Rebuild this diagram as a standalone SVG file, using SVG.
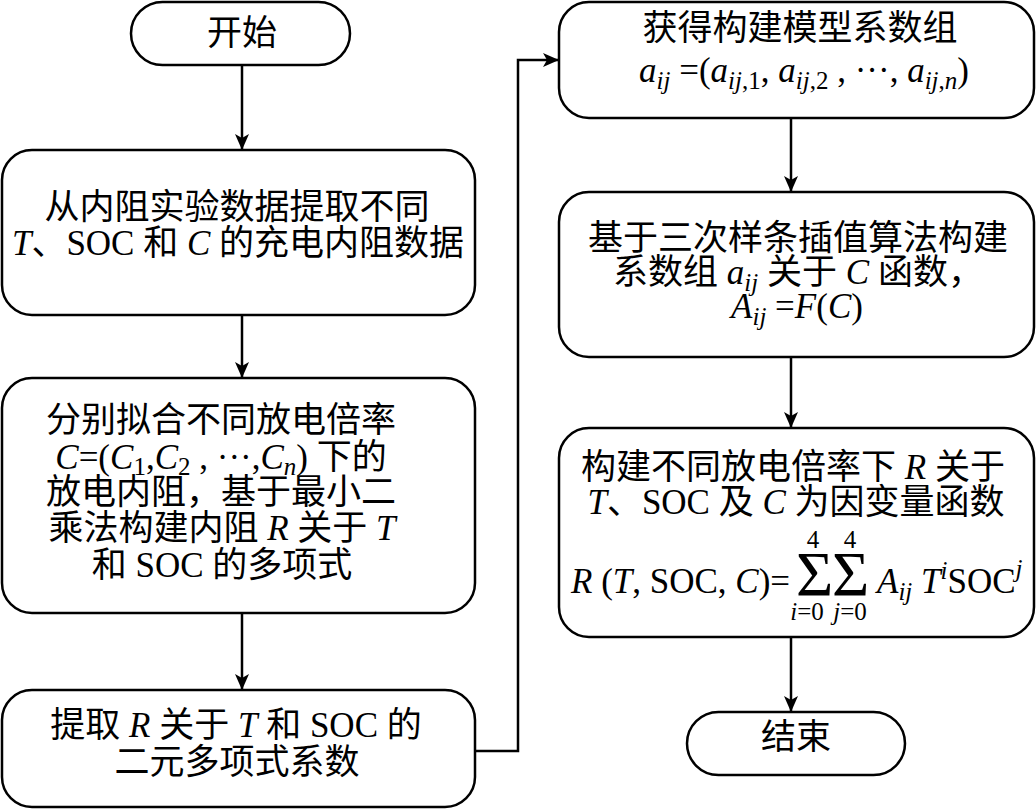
<svg xmlns="http://www.w3.org/2000/svg" width="1036" height="810" viewBox="0 0 1036 810">
<style>
.box{fill:#fff;stroke:#000;stroke-width:2.5}
.ln{fill:none;stroke:#000;stroke-width:2.5}
text{font-family:"Liberation Serif","Noto Sans CJK SC",serif;font-size:35px;fill:#000}
.c{text-anchor:middle}
.i{font-style:italic}
.s{font-size:25px}
.sig{font-family:"Liberation Serif",serif;font-size:64px}
</style>
<defs>
<marker id="ah" markerWidth="16" markerHeight="14" refX="15" refY="7" orient="auto" markerUnits="userSpaceOnUse">
<path d="M0,0 L16,7 L0,14 L4,7 Z" fill="#000"/>
</marker>
</defs>
<rect width="1036" height="810" fill="#fff"/>
<g id="connectors">
<line class="ln" x1="242" y1="65" x2="242" y2="149" marker-end="url(#ah)"/>
<line class="ln" x1="242" y1="315" x2="242" y2="377" marker-end="url(#ah)"/>
<line class="ln" x1="242" y1="613" x2="242" y2="689" marker-end="url(#ah)"/>
<polyline class="ln" points="475,751 518,751 518,60 558,60" marker-end="url(#ah)"/>
<line class="ln" x1="791" y1="118" x2="791" y2="191" marker-end="url(#ah)"/>
<line class="ln" x1="791" y1="357" x2="791" y2="427" marker-end="url(#ah)"/>
<line class="ln" x1="791" y1="637" x2="791" y2="711" marker-end="url(#ah)"/>
</g>
<g id="start">
<rect class="box" x="131" y="2" width="219" height="63" rx="31.5"/>
<text class="c" x="242" y="45">开始</text>
</g>
<g id="n1">
<rect class="box" x="2" y="150" width="473" height="165" rx="30"/>
<text class="c" x="237" y="219">从内阻实验数据提取不同</text>
<text class="c" x="238" y="255"><tspan class="i">T</tspan>、SOC 和 <tspan class="i">C</tspan> 的充电内阻数据</text>
</g>
<g id="n2">
<rect class="box" x="2" y="378" width="473" height="235" rx="30"/>
<text class="c" x="221" y="432">分别拟合不同放电倍率</text>
<text class="c" x="221" y="469"><tspan class="i">C</tspan>=(<tspan class="i">C</tspan><tspan class="s" dy="6">1</tspan><tspan dy="-6">,</tspan><tspan class="i">C</tspan><tspan class="s" dy="6">2</tspan><tspan dy="-6"> , ···,</tspan><tspan class="i">C</tspan><tspan class="s i" dy="6">n</tspan><tspan dy="-6">) 下的</tspan></text>
<text class="c" x="221" y="504">放电内阻，基于最小二</text>
<text class="c" x="222" y="540">乘法构建内阻 <tspan class="i">R</tspan> 关于 <tspan class="i">T</tspan></text>
<text class="c" x="222" y="577">和 SOC 的多项式</text>
</g>
<g id="n3">
<rect class="box" x="2" y="690" width="473" height="117" rx="30"/>
<text class="c" x="236" y="737">提取 <tspan class="i">R</tspan> 关于 <tspan class="i">T</tspan> 和 SOC 的</text>
<text class="c" x="237" y="774">二元多项式系数</text>
</g>
<g id="n4">
<rect class="box" x="559" y="2" width="475" height="116" rx="30"/>
<text class="c" x="800" y="40">获得构建模型系数组</text>
<text class="c" x="804" y="82"><tspan class="i">a</tspan><tspan class="s i" dy="7">ij</tspan><tspan dy="-7"> =(</tspan><tspan class="i">a</tspan><tspan class="s" dy="7"><tspan class="i">ij</tspan>,1</tspan><tspan dy="-7">, </tspan><tspan class="i">a</tspan><tspan class="s" dy="7"><tspan class="i">ij</tspan>,2</tspan><tspan dy="-7"> , ···, </tspan><tspan class="i">a</tspan><tspan class="s" dy="7"><tspan class="i">ij</tspan>,<tspan class="i">n</tspan></tspan><tspan dy="-7">)</tspan></text>
</g>
<g id="n5">
<rect class="box" x="559" y="192" width="475" height="165" rx="30"/>
<text class="c" x="798" y="250">基于三次样条插值算法构建</text>
<text class="c" x="798" y="284">系数组 <tspan class="i">a</tspan><tspan class="s i" dy="7">ij</tspan><tspan dy="-7"> 关于 </tspan><tspan class="i">C</tspan> 函数，</text>
<text class="c" x="797" y="318"><tspan class="i">A</tspan><tspan class="s i" dy="7">ij</tspan><tspan dy="-7"> =</tspan><tspan class="i">F</tspan>(<tspan class="i">C</tspan>)</text>
</g>
<g id="n6">
<rect class="box" x="559" y="428" width="475" height="209" rx="30"/>
<text class="c" x="793" y="479">构建不同放电倍率下 <tspan class="i">R</tspan> 关于</text>
<text class="c" x="796" y="514"><tspan class="i">T</tspan>、SOC 及 <tspan class="i">C</tspan> 为因变量函数</text>
<text x="571" y="593"><tspan class="i">R</tspan> (<tspan class="i">T</tspan>, SOC, <tspan class="i">C</tspan>)=</text>
<text class="sig" x="796" y="596">Σ</text>
<text class="sig" x="832" y="596">Σ</text>
<text class="c s" x="813" y="548">4</text>
<text class="c s" x="850" y="548">4</text>
<text class="c s" x="807" y="620"><tspan class="i">i</tspan>=0</text>
<text class="c s" x="850" y="620"><tspan class="i">j</tspan>=0</text>
<text x="877" y="593"><tspan class="i">A</tspan><tspan class="s i" dy="7">ij</tspan><tspan dy="-7"> </tspan><tspan class="i">T</tspan><tspan class="s i" dy="-14">i</tspan><tspan dy="14">SOC</tspan><tspan class="s i" dy="-16">j</tspan></text>
</g>
<g id="end">
<rect class="box" x="687" y="712" width="218" height="63" rx="31.5"/>
<text class="c" x="796" y="749">结束</text>
</g>
</svg>
